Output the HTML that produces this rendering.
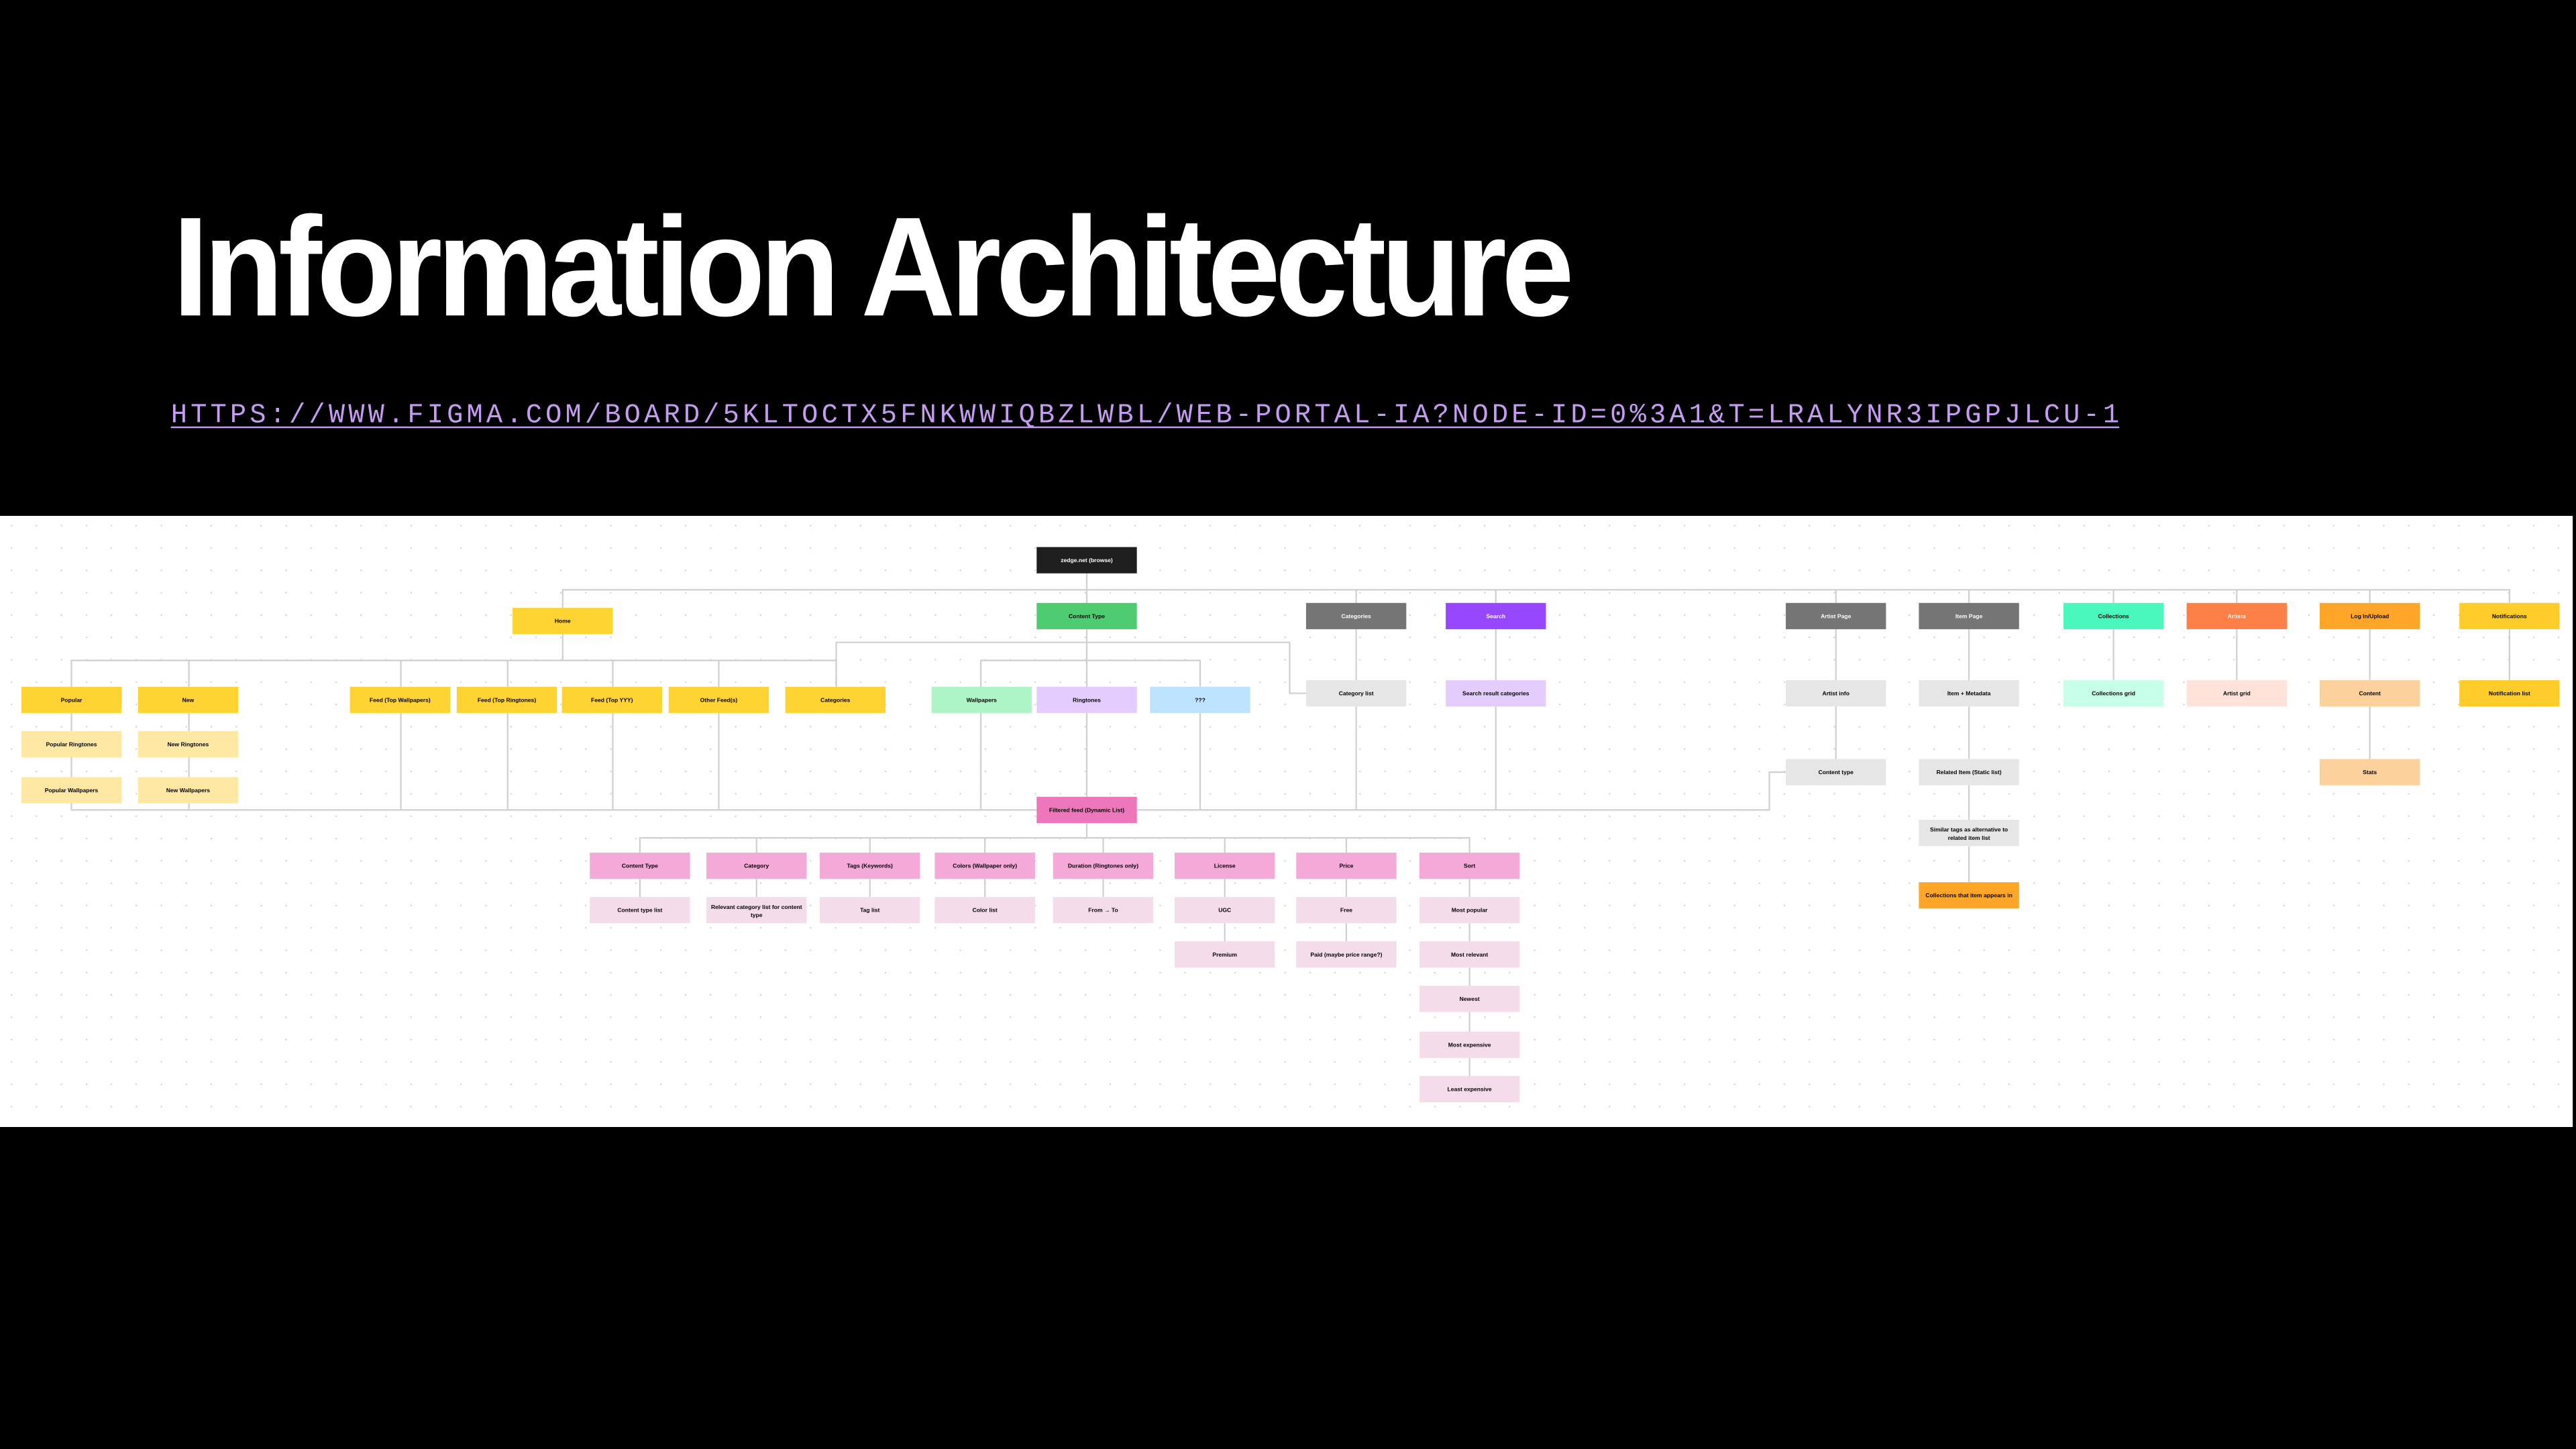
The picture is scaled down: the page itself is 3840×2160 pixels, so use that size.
<!DOCTYPE html>
<html><head><meta charset="utf-8"><style>
html,body{margin:0;padding:0;background:#000;width:3840px;height:2160px;overflow:hidden}
svg{display:block}
.n text{font-family:"Liberation Sans",sans-serif;font-size:3.5px;font-weight:700;text-anchor:middle;dominant-baseline:central}
</style></head><body>
<svg width="3840" height="2160" viewBox="0 0 1568 882" xmlns="http://www.w3.org/2000/svg">
<defs>
<pattern id="dots" x="0" y="314" width="15.2" height="13.6" patternUnits="userSpaceOnUse">
<circle cx="7" cy="6" r="0.45" fill="#c9c9c9"/>
</pattern>
</defs>
<rect x="0" y="0" width="1568" height="882" fill="#000"/>
<text x="105" y="192" font-family="Liberation Sans,sans-serif" font-weight="700" font-size="86" fill="#fff" letter-spacing="-3.5" textLength="850" lengthAdjust="spacingAndGlyphs">Information Architecture</text>
<text x="104" y="257" font-family="Liberation Mono,monospace" font-size="16.5" fill="#c69cf2" textLength="1186" lengthAdjust="spacing">HTTPS://WWW.FIGMA.COM/BOARD/5KLTOCTX5FNKWWIQBZLWBL/WEB-PORTAL-IA?NODE-ID=0%3A1&amp;T=LRALYNR3IPGPJLCU-1</text>
<rect x="104" y="259.6" width="1186" height="1" fill="#c69cf2"/>
<rect x="0" y="314" width="1566" height="372" fill="#fff"/>
<rect x="0" y="314" width="1566" height="372" fill="url(#dots)"/>
<g fill="none" stroke="#cfcfcf" stroke-width="0.9">
<path d="M661.5 349V367M342.5 370V359H1527.5V367M825.5 359V367M910.5 359V367M1117.5 359V367M1198.5 359V367M1286.5 359V367M1361.5 359V367M1442.5 359V367"/>
<path d="M342.5 386V402M43.5 418V402H509V418M115 402V418M244 402V418M309 402V418M373 402V418M437.5 402V418"/>
<path d="M509 418V391H785V422H795"/>
<path d="M661.5 383V418M661.5 434V485M597 418V402H730.5V418"/>
<path d="M43.5 434V445M43.5 461V473M115 434V445M115 461V473M43.5 489V493H1077V470H1087M115 489V493"/>
<path d="M244 434V493M309 434V493M373 434V493M437.5 434V493M597 434V493M730.5 434V493M825.5 430V493M910.5 430V493"/>
<path d="M661.5 501V510M389.5 519V510H894.5V519M460.5 510V519M529.5 510V519M599.5 510V519M671.5 510V519M745.5 510V519M819.5 510V519"/>
<path d="M389.5 535V546M460.5 535V546M529.5 535V546M599.5 535V546M671.5 535V546M745.5 535V546M819.5 535V546M894.5 535V546M745.5 562V573M819.5 562V573M894.5 562V573M894.5 589V600M894.5 616V628M894.5 644V655"/>
<path d="M825.5 383V414M910.5 383V414M1117.5 383V414M1117.5 430V462M1198.5 383V414M1198.5 430V462M1198.5 478V499M1198.5 515V537M1286.5 383V414M1361.5 383V414M1442.5 383V414M1442.5 430V462M1527.5 383V414"/>
</g>
<g class="n">
<rect x="631" y="333" width="61" height="16" fill="#1e1e1e"/><text x="661.5" y="341" fill="#fff">zedge.net (browse)</text>
<rect x="312" y="370" width="61" height="16" fill="#ffd332"/><text x="342.5" y="378">Home</text>
<rect x="631" y="367" width="61" height="16" fill="#4fcb71"/><text x="661.5" y="375">Content Type</text>
<rect x="795" y="367" width="61" height="16" fill="#757575"/><text x="825.5" y="375" fill="#fff">Categories</text>
<rect x="880" y="367" width="61" height="16" fill="#9747ff"/><text x="910.5" y="375" fill="#fff">Search</text>
<rect x="1087" y="367" width="61" height="16" fill="#757575"/><text x="1117.5" y="375" fill="#fff">Artist Page</text>
<rect x="1168" y="367" width="61" height="16" fill="#757575"/><text x="1198.5" y="375" fill="#fff">Item Page</text>
<rect x="1256" y="367" width="61" height="16" fill="#4af7bd"/><text x="1286.5" y="375">Collections</text>
<rect x="1331" y="367" width="61" height="16" fill="#ff7f48"/><text x="1361.5" y="375" fill="#fff">Artists</text>
<rect x="1412" y="367" width="61" height="16" fill="#ffa629"/><text x="1442.5" y="375">Log In/Upload</text>
<rect x="1497" y="367" width="61" height="16" fill="#ffcd29"/><text x="1527.5" y="375">Notifications</text>

<rect x="13" y="418" width="61" height="16" fill="#ffd332"/><text x="43.5" y="426">Popular</text>
<rect x="84" y="418" width="61" height="16" fill="#ffd332"/><text x="114.5" y="426">New</text>
<rect x="213" y="418" width="61" height="16" fill="#ffd332"/><text x="243.5" y="426">Feed (Top Wallpapers)</text>
<rect x="278" y="418" width="61" height="16" fill="#ffd332"/><text x="308.5" y="426">Feed (Top Ringtones)</text>
<rect x="342" y="418" width="61" height="16" fill="#ffd332"/><text x="372.5" y="426">Feed (Top YYY)</text>
<rect x="407" y="418" width="61" height="16" fill="#ffd332"/><text x="437.5" y="426">Other Feed(s)</text>
<rect x="478" y="418" width="61" height="16" fill="#ffd332"/><text x="508.5" y="426">Categories</text>
<rect x="567" y="418" width="61" height="16" fill="#aff4c6"/><text x="597.5" y="426">Wallpapers</text>
<rect x="631" y="418" width="61" height="16" fill="#e4ccff"/><text x="661.5" y="426">Ringtones</text>
<rect x="700" y="418" width="61" height="16" fill="#bde3ff"/><text x="730.5" y="426">???</text>

<rect x="795" y="414" width="61" height="16" fill="#e6e6e6"/><text x="825.5" y="422">Category list</text>
<rect x="880" y="414" width="61" height="16" fill="#e4ccff"/><text x="910.5" y="422">Search result categories</text>
<rect x="1087" y="414" width="61" height="16" fill="#e6e6e6"/><text x="1117.5" y="422">Artist info</text>
<rect x="1168" y="414" width="61" height="16" fill="#e6e6e6"/><text x="1198.5" y="422">Item + Metadata</text>
<rect x="1256" y="414" width="61" height="16" fill="#c7ffe8"/><text x="1286.5" y="422">Collections grid</text>
<rect x="1331" y="414" width="61" height="16" fill="#ffe2d9"/><text x="1361.5" y="422">Artist grid</text>
<rect x="1412" y="414" width="61" height="16" fill="#fcd19c"/><text x="1442.5" y="422">Content</text>
<rect x="1497" y="414" width="61" height="16" fill="#ffcd29"/><text x="1527.5" y="422">Notification list</text>

<rect x="13" y="445" width="61" height="16" fill="#ffe8a3"/><text x="43.5" y="453">Popular Ringtones</text>
<rect x="84" y="445" width="61" height="16" fill="#ffe8a3"/><text x="114.5" y="453">New Ringtones</text>
<rect x="13" y="473" width="61" height="16" fill="#ffe8a3"/><text x="43.5" y="481">Popular Wallpapers</text>
<rect x="84" y="473" width="61" height="16" fill="#ffe8a3"/><text x="114.5" y="481">New Wallpapers</text>

<rect x="1087" y="462" width="61" height="16" fill="#e6e6e6"/><text x="1117.5" y="470">Content type</text>
<rect x="1168" y="462" width="61" height="16" fill="#e6e6e6"/><text x="1198.5" y="470">Related Item (Static list)</text>
<rect x="1412" y="462" width="61" height="16" fill="#fcd19c"/><text x="1442.5" y="470">Stats</text>
<rect x="1168" y="499" width="61" height="16" fill="#e6e6e6"/><text x="1198.5" y="505">Similar tags as alternative to</text><text x="1198.5" y="510">related item list</text>
<rect x="1168" y="537" width="61" height="16" fill="#ffa629"/><text x="1198.5" y="545">Collections that item appears in</text>

<rect x="631" y="485" width="61" height="16" fill="#ee77bb"/><text x="661.5" y="493">Filtered feed (Dynamic List)</text>

<rect x="359" y="519" width="61" height="16" fill="#f5a9d9"/><text x="389.5" y="527">Content Type</text>
<rect x="430" y="519" width="61" height="16" fill="#f5a9d9"/><text x="460.5" y="527">Category</text>
<rect x="499" y="519" width="61" height="16" fill="#f5a9d9"/><text x="529.5" y="527">Tags (Keywords)</text>
<rect x="569" y="519" width="61" height="16" fill="#f5a9d9"/><text x="599.5" y="527">Colors (Wallpaper only)</text>
<rect x="641" y="519" width="61" height="16" fill="#f5a9d9"/><text x="671.5" y="527">Duration (Ringtones only)</text>
<rect x="715" y="519" width="61" height="16" fill="#f5a9d9"/><text x="745.5" y="527">License</text>
<rect x="789" y="519" width="61" height="16" fill="#f5a9d9"/><text x="819.5" y="527">Price</text>
<rect x="864" y="519" width="61" height="16" fill="#f5a9d9"/><text x="894.5" y="527">Sort</text>

<rect x="359" y="546" width="61" height="16" fill="#f4dcea"/><text x="389.5" y="554">Content type list</text>
<rect x="430" y="546" width="61" height="16" fill="#f4dcea"/><text x="460.5" y="552">Relevant category list for content</text><text x="460.5" y="557">type</text>
<rect x="499" y="546" width="61" height="16" fill="#f4dcea"/><text x="529.5" y="554">Tag list</text>
<rect x="569" y="546" width="61" height="16" fill="#f4dcea"/><text x="599.5" y="554">Color list</text>
<rect x="641" y="546" width="61" height="16" fill="#f4dcea"/><text x="671.5" y="554">From → To</text>
<rect x="715" y="546" width="61" height="16" fill="#f4dcea"/><text x="745.5" y="554">UGC</text>
<rect x="789" y="546" width="61" height="16" fill="#f4dcea"/><text x="819.5" y="554">Free</text>
<rect x="864" y="546" width="61" height="16" fill="#f4dcea"/><text x="894.5" y="554">Most popular</text>
<rect x="715" y="573" width="61" height="16" fill="#f4dcea"/><text x="745.5" y="581">Premium</text>
<rect x="789" y="573" width="61" height="16" fill="#f4dcea"/><text x="819.5" y="581">Paid (maybe price range?)</text>
<rect x="864" y="573" width="61" height="16" fill="#f4dcea"/><text x="894.5" y="581">Most relevant</text>
<rect x="864" y="600" width="61" height="16" fill="#f4dcea"/><text x="894.5" y="608">Newest</text>
<rect x="864" y="628" width="61" height="16" fill="#f4dcea"/><text x="894.5" y="636">Most expensive</text>
<rect x="864" y="655" width="61" height="16" fill="#f4dcea"/><text x="894.5" y="663">Least expensive</text>
</g>
</svg>
</body></html>
